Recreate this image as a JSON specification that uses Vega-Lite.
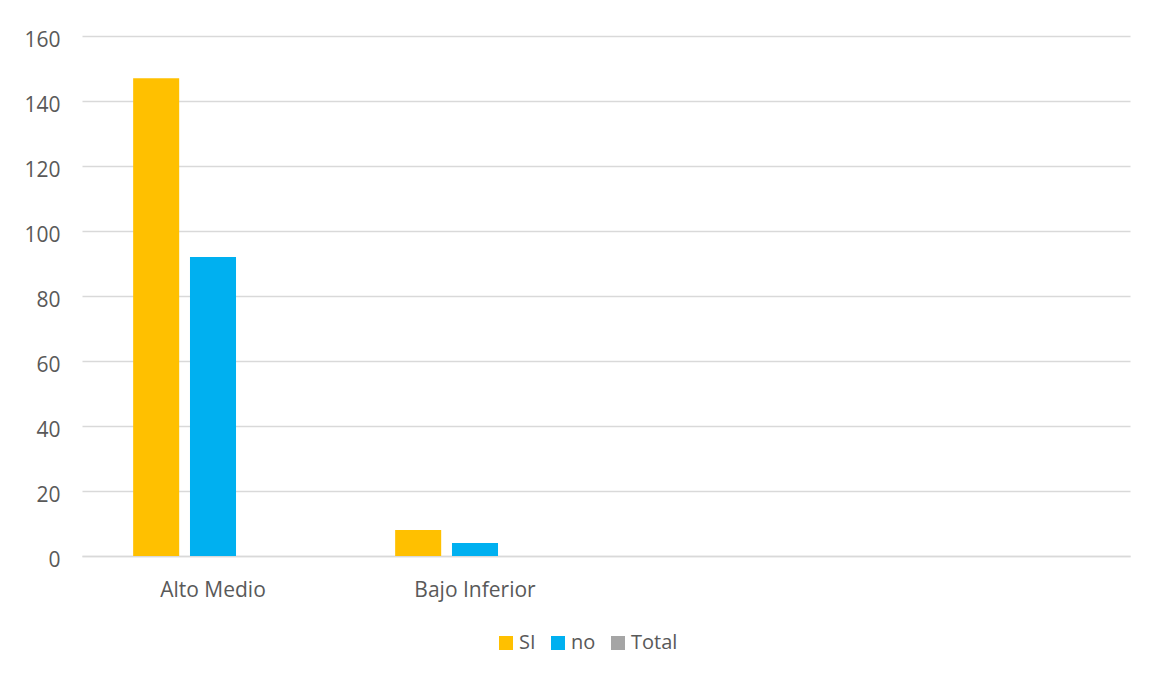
{
  "$schema": "https://vega.github.io/schema/vega-lite/v6.json",
  "width": 1048,
  "height": 520,
  "autosize": {"type": "none"},
  "padding": {"left": 82, "top": 36, "right": 20, "bottom": 119},
  "background": "white",
  "data": {
    "values": [
      {"cat": "Alto Medio", "serie": "SI", "valor": 147},
      {"cat": "Alto Medio", "serie": "no", "valor": 92},
      {"cat": "Bajo Inferior", "serie": "SI", "valor": 8},
      {"cat": "Bajo Inferior", "serie": "no", "valor": 4}
    ]
  },
  "mark": {"type": "bar"},
  "encoding": {
    "x": {
      "field": "cat",
      "type": "nominal",
      "title": null,
      "scale": {"domain": ["Alto Medio", "Bajo Inferior", " ", "  "], "paddingInner": 0, "paddingOuter": 0},
      "axis": {
        "labelAngle": 0,
        "ticks": false,
        "domain": true,
        "domainColor": "#D9D9D9",
        "domainWidth": 1.3,
        "labelPadding": 23,
        "labelFontSize": 21,
        "labelColor": "#595959",
        "grid": false
      }
    },
    "xOffset": {
      "field": "serie",
      "type": "nominal",
      "scale": {"domain": ["SI", "no", "Total"], "paddingInner": 0.19, "paddingOuter": 0.9}
    },
    "y": {
      "field": "valor",
      "type": "quantitative",
      "title": null,
      "scale": {"domain": [0, 160], "nice": false},
      "axis": {
        "values": [0, 20, 40, 60, 80, 100, 120, 140, 160],
        "ticks": false,
        "domain": false,
        "grid": true,
        "gridColor": "#D9D9D9",
        "gridWidth": 1.3,
        "labelPadding": 22,
        "labelFontSize": 21,
        "labelColor": "#595959",
        "labelOffset": 4
      }
    },
    "color": {
      "field": "serie",
      "type": "nominal",
      "scale": {"domain": ["SI", "no", "Total"], "range": ["#FFC000", "#00B0F0", "#A5A5A5"]},
      "legend": {
        "title": null,
        "orient": "none",
        "direction": "horizontal",
        "legendX": 414,
        "legendY": 597,
        "symbolType": "square",
        "symbolSize": 196,
        "symbolStrokeWidth": 0,
        "labelFontSize": 20,
        "labelColor": "#595959",
        "labelOffset": 3,
        "columnPadding": 12,
        "padding": 0
      }
    }
  },
  "config": {
    "view": {"stroke": null},
    "font": "Open Sans"
  }
}
